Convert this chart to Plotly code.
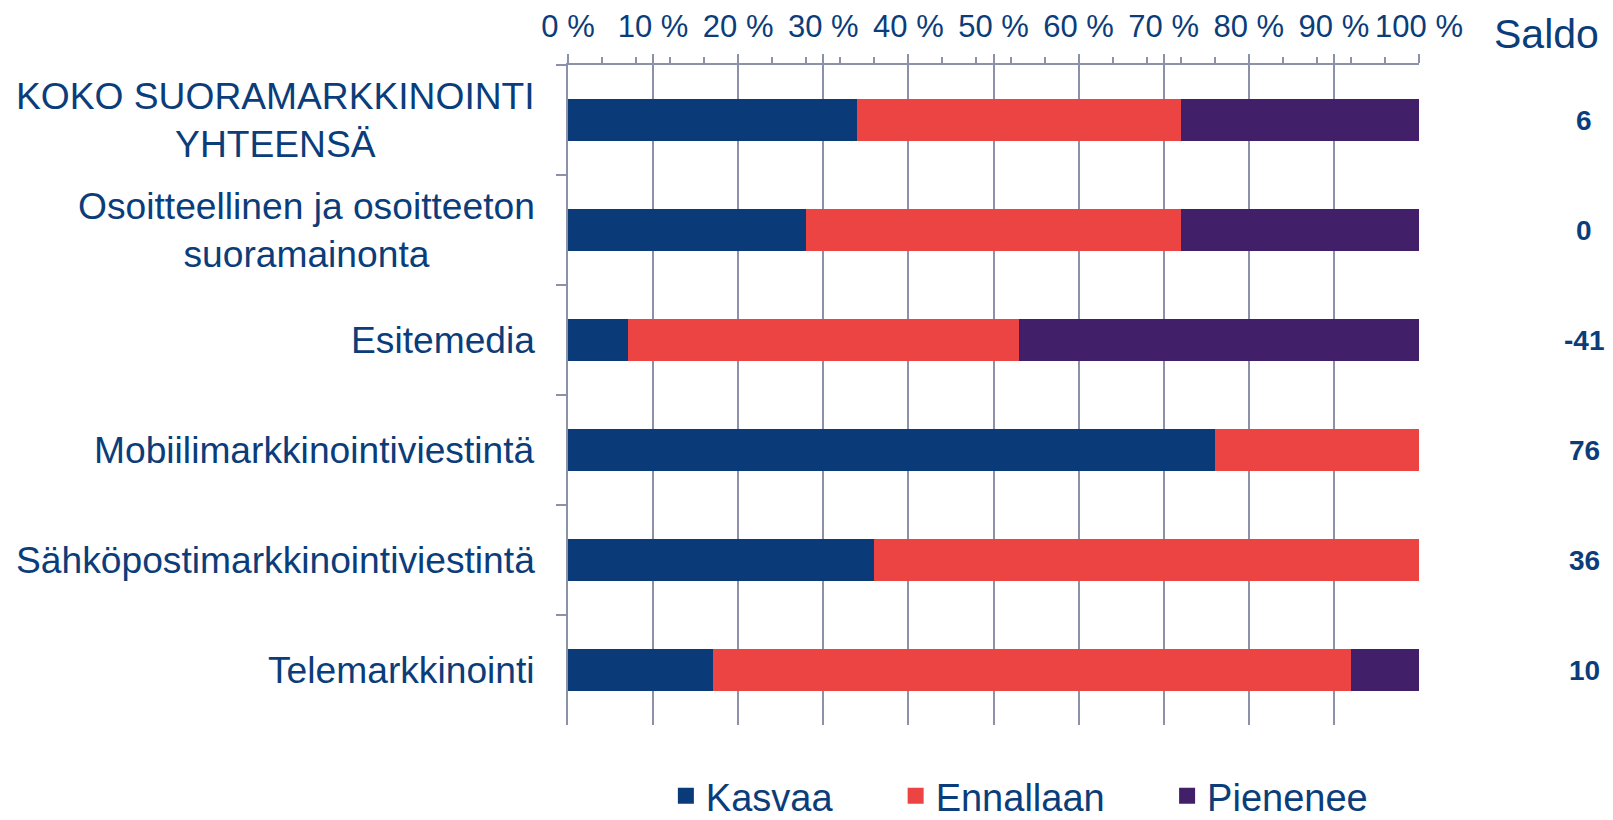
import plotly.graph_objects as go

# data (percent of respondents)
categories = [
    "KOKO SUORAMARKKINOINTI<br>YHTEENSÄ",
    "Osoitteellinen ja osoitteeton<br>suoramainonta",
    "Esitemedia",
    "Mobiilimarkkinointiviestintä",
    "Sähköpostimarkkinointiviestintä",
    "Telemarkkinointi",
]
kasvaa = [34, 28, 7, 76, 36, 17]
ennallaan = [38, 44, 46, 24, 64, 75]
pienenee = [28, 28, 47, 0, 0, 8]
saldo = [6, 0, -41, 76, 36, 10]

series = [("Kasvaa", kasvaa, "#0a3a78"),
          ("Ennallaan", ennallaan, "#ec4343"),
          ("Pienenee", pienenee, "#421f69")]

txt = "#0b3d7a"
grid = "#8a91a8"
font = "Liberation Sans, Arial, sans-serif"

fig = go.Figure()
for name, vals, col in series:
    fig.add_trace(go.Bar(y=categories, x=vals, name=name, orientation="h",
                         marker=dict(color=col, line=dict(width=0)),
                         showlegend=False))

# one legend box per entry so the spacing follows the original
legend_ids = ["legend", "legend2", "legend3"]
legend_x = [0.115, 0.385, 0.704]
for (name, vals, col), lid in zip(series, legend_ids):
    fig.add_trace(go.Scatter(x=[None], y=[None], mode="markers", name=name,
                             legend=lid,
                             marker=dict(symbol="square", size=20, color=col)))

# category labels, centred lines like the original
for cat in categories:
    fig.add_annotation(x=0, xref="paper", y=cat, yref="y", text=cat,
                       xanchor="right", yanchor="middle", align="center",
                       xshift=-31, showarrow=False,
                       font=dict(size=37.2, color=txt, family=font))

# Saldo column
fig.add_annotation(x=1.150, xref="paper", y=1, yref="paper", text="Saldo",
                   xanchor="center", yanchor="middle", yshift=31,
                   showarrow=False, font=dict(size=41, color=txt, family=font))
for cat, s in zip(categories, saldo):
    fig.add_annotation(x=1.194, xref="paper", y=cat, yref="y", text=f"<b>{s}</b>",
                       xanchor="center", yanchor="middle", showarrow=False,
                       font=dict(size=28, color=txt, family=font))

leg = dict(orientation="h", xanchor="left", yref="container", y=0.0506,
           yanchor="middle", bgcolor="rgba(0,0,0,0)",
           font=dict(size=38, color=txt, family=font))
fig.update_layout(
    barmode="stack",
    bargap=0.61,
    width=1613, height=830,
    margin=dict(l=560, r=202, t=57, b=113, autoexpand=False),
    paper_bgcolor="white", plot_bgcolor="white",
    font=dict(family=font, color=txt),
    legend=dict(leg, x=legend_x[0]),
    legend2=dict(leg, x=legend_x[1]),
    legend3=dict(leg, x=legend_x[2]),
)
fig.update_xaxes(range=[0, 100], side="top", dtick=10, ticksuffix=" %",
                 tickfont=dict(size=31, color=txt, family=font),
                 ticklabelstandoff=5,
                 showgrid=True, gridcolor=grid, gridwidth=2,
                 showline=True, linecolor=grid, linewidth=2,
                 ticks="outside", ticklen=9, tickcolor=grid, tickwidth=2,
                 minor=dict(dtick=4, ticks="outside", ticklen=6, tickcolor=grid, tickwidth=2),
                 zeroline=False, fixedrange=True)
fig.update_yaxes(autorange="reversed", showticklabels=False,
                 showline=True, linecolor=grid, linewidth=2,
                 ticks="outside", ticklen=10, tickcolor=grid, tickwidth=2,
                 tickson="boundaries", showgrid=False, fixedrange=True)

fig.write_html("out.html")
